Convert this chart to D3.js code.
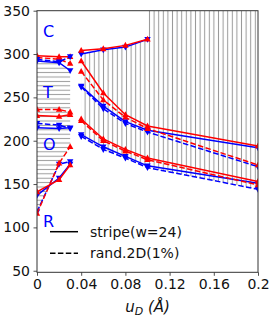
<!DOCTYPE html>
<html>
<head>
<meta charset="utf-8">
<script src="https://cdn.jsdelivr.net/npm/d3@7"></script>
<style>
  body { margin: 0; background: #fff; }
  svg { font-family: "DejaVu Sans", sans-serif; }
</style>
</head>
<body>
<div id="chart"></div>
<script>
// x positions (u_D in Angstrom)
var xLeft = [0, 0.02, 0.03];
var xRight = [0.04, 0.06, 0.08, 0.1, 0.2];
var xTop = [0.04, 0.06, 0.08, 0.1];

// left region, C-T
var ctHeatStripe = [298, 297, 297];
var ctHeatRand = [296, 294, 289];
var ctCoolStripe = [292, 290, 281];
var ctCoolRand = [294, 291, 297];
// left region, T-O
var toHeatStripe = [229, 228, 230];
var toHeatRand = [236, 236, 233];
var toCoolStripe = [215, 214, 215];
var toCoolRand = [220, 218, 214];
// left region, O-R
var orHeatStripe = [141, 155, 172];
var orHeatRand = [116, 174, 193];
var orCoolStripe = [137, 157, 173];
var orCoolRand = [118, 173, 176];

// right region, upper transition
var upHeatStripe = [304, 306, 310, 317];
var upCoolStripe = [300, 305, 308, 317];
// right region, middle transition
var midHeatStripe = [292, 255, 230, 217, 194];
var midHeatRand = [280, 247, 227, 214, 172];
var midCoolStripe = [263, 240, 222, 212, 192];
var midCoolRand = [262, 237, 220, 210, 170];
// right region, lower transition
var lowHeatStripe = [225, 202, 190, 180, 153];
var lowHeatRand = [223, 200, 188, 178, 149];
var lowCoolStripe = [207, 193, 182, 171, 151];
var lowCoolRand = [205, 190, 180, 169, 144];

// hatched areas
var hatchLeftX = [0, 0.02, 0.03];
var hatchLeftTop = [292, 290, 281];
var hatchLeftBottom = [116, 174, 193];
var hatchRightX = [0.04, 0.06, 0.08, 0.1, 0.1, 0.2];
var hatchRightTop = [300, 305, 308, 317, 350, 350];
var hatchRightBottom = [205, 190, 180, 169, 169, 144];

var xTicks = [0, 0.04, 0.08, 0.12, 0.16, 0.2];
var xTickLabels = ["0", "0.04", "0.08", "0.12", "0.16", "0.2"];
var yTicks = [50, 100, 150, 200, 250, 300, 350];
var phaseLabels = ["C", "T", "O", "R"];
var phaseLabelY = [320, 249, 189, 100];
var legendNames = ["stripe(w=24)", "rand.2D(1%)"];

var width = 275, height = 322;
var margin = {left: 37, right: 17, top: 10.7, bottom: 49.7};

var svg = d3.select("#chart").append("svg")
    .attr("width", width)
    .attr("height", height);

var x = d3.scaleLinear().domain([0, 0.2]).range([margin.left, width - margin.right]);
var y = d3.scaleLinear().domain([48.2, 350]).range([height - margin.bottom, margin.top]);

var defs = svg.append("defs");
var ph = defs.append("pattern").attr("id", "hatchH")
    .attr("patternUnits", "userSpaceOnUse").attr("width", 10).attr("height", 4.4);
ph.append("line").attr("x1", 0).attr("x2", 10).attr("y1", 2.2).attr("y2", 2.2)
    .attr("stroke", "#9a9a9a").attr("stroke-width", 1);
var pv = defs.append("pattern").attr("id", "hatchV")
    .attr("patternUnits", "userSpaceOnUse").attr("width", 4.6).attr("height", 10);
pv.append("line").attr("y1", 0).attr("y2", 10).attr("x1", 2.3).attr("x2", 2.3)
    .attr("stroke", "#9a9a9a").attr("stroke-width", 1);

var clip = defs.append("clipPath").attr("id", "plotClip");
clip.append("rect").attr("x", margin.left).attr("y", margin.top)
    .attr("width", width - margin.left - margin.right)
    .attr("height", height - margin.top - margin.bottom);

var plot = svg.append("g").attr("clip-path", "url(#plotClip)");

//hatched regions
var area = d3.area()
    .x(function (d) { return x(d[0]); })
    .y0(function (d) { return y(d[1]); })
    .y1(function (d) { return y(d[2]); });

plot.append("path")
    .attr("d", area(hatchLeftX.map(function (v, i) { return [v, hatchLeftBottom[i], hatchLeftTop[i]]; })))
    .attr("fill", "url(#hatchH)");
plot.append("path")
    .attr("d", area(hatchRightX.map(function (v, i) { return [v, hatchRightBottom[i], hatchRightTop[i]]; })))
    .attr("fill", "url(#hatchV)");

var series = [
    {xs: xLeft, ys: ctHeatStripe, c: "red", heat: true, dash: false},
    {xs: xLeft, ys: ctHeatRand, c: "red", heat: true, dash: true},
    {xs: xLeft, ys: ctCoolStripe, c: "blue", heat: false, dash: false},
    {xs: xLeft, ys: ctCoolRand, c: "blue", heat: false, dash: true},
    {xs: xLeft, ys: toHeatStripe, c: "red", heat: true, dash: false},
    {xs: xLeft, ys: toHeatRand, c: "red", heat: true, dash: true},
    {xs: xLeft, ys: toCoolStripe, c: "blue", heat: false, dash: false},
    {xs: xLeft, ys: toCoolRand, c: "blue", heat: false, dash: true},
    {xs: xLeft, ys: orCoolStripe, c: "blue", heat: false, dash: false},
    {xs: xLeft, ys: orCoolRand, c: "blue", heat: false, dash: true},
    {xs: xLeft, ys: orHeatStripe, c: "red", heat: true, dash: false},
    {xs: xLeft, ys: orHeatRand, c: "red", heat: true, dash: true},
    {xs: xTop, ys: upCoolStripe, c: "blue", heat: false, dash: false},
    {xs: xTop, ys: upHeatStripe, c: "red", heat: true, dash: false},
    {xs: xRight, ys: midCoolRand, c: "blue", heat: false, dash: true},
    {xs: xRight, ys: midCoolStripe, c: "blue", heat: false, dash: false},
    {xs: xRight, ys: midHeatRand, c: "red", heat: true, dash: true},
    {xs: xRight, ys: midHeatStripe, c: "red", heat: true, dash: false},
    {xs: xRight, ys: lowCoolRand, c: "blue", heat: false, dash: true},
    {xs: xRight, ys: lowCoolStripe, c: "blue", heat: false, dash: false},
    {xs: xRight, ys: lowHeatRand, c: "red", heat: true, dash: true},
    {xs: xRight, ys: lowHeatStripe, c: "red", heat: true, dash: false}
];

var line = d3.line()
    .x(function (d) { return x(d[0]); })
    .y(function (d) { return y(d[1]); });

var upTri = "M0,-3.5L3.2,2.3L-3.2,2.3Z";
var downTri = "M0,3.5L3.2,-2.3L-3.2,-2.3Z";

series.forEach(function (s) {
    var pts = s.xs.map(function (v, i) { return [v, s.ys[i]]; });
    plot.append("path")
        .attr("d", line(pts))
        .attr("fill", "none")
        .attr("stroke", s.c)
        .attr("stroke-width", 1.5)
        .attr("stroke-dasharray", s.dash ? "5.5,2.4" : null);
    plot.selectAll(null)
        .data(pts)
        .enter().append("path")
        .attr("d", s.heat ? upTri : downTri)
        .attr("transform", function (d) { return "translate(" + x(d[0]) + "," + y(d[1]) + ")"; })
        .attr("fill", s.c);
});

// phase labels
svg.selectAll(".phase")
    .data(phaseLabels)
    .enter().append("text")
    .attr("class", "phase")
    .attr("x", 43)
    .attr("y", function (d, i) { return y(phaseLabelY[i]); })
    .attr("fill", "blue")
    .style("font-size", "16px")
    .text(function (d) { return d; });

// axes
var xAxis = d3.axisBottom(x).tickValues(xTicks)
    .tickFormat(function (d, i) { return xTickLabels[i]; })
    .tickSize(3.5).tickPadding(3.5);
var yAxis = d3.axisLeft(y).tickValues(yTicks).tickSize(3.5).tickPadding(3.5);

var gx = svg.append("g")
    .attr("transform", "translate(0," + (height - margin.bottom) + ")")
    .call(xAxis);
var gy = svg.append("g")
    .attr("transform", "translate(" + margin.left + ",0)")
    .call(yAxis);
[gx, gy].forEach(function (g) {
    g.select(".domain").remove();
    g.selectAll("line").attr("stroke", "#222").attr("stroke-width", 0.8);
    g.selectAll("text").style("font-size", "14px").attr("fill", "#111")
        .style("font-family", "DejaVu Sans");
});

// frame
svg.append("rect")
    .attr("x", margin.left).attr("y", margin.top)
    .attr("width", width - margin.left - margin.right)
    .attr("height", height - margin.top - margin.bottom)
    .attr("fill", "none").attr("stroke", "#333").attr("stroke-width", 1);

// x label
var xl = svg.append("text")
    .attr("x", (margin.left + width - margin.right) / 2)
    .attr("y", 312)
    .attr("text-anchor", "middle")
    .style("font-size", "15px")
    .style("font-style", "italic")
    .attr("fill", "#111");
xl.append("tspan").text("u");
xl.append("tspan").attr("dy", 3).style("font-size", "11px").text("D");
xl.append("tspan").attr("dy", -3).text(" (Å)");

// legend
var legend = svg.append("g");
legendNames.forEach(function (name, i) {
    var ly = 231.7 + i * 21.6;
    legend.append("line")
        .attr("x1", 50).attr("x2", 78).attr("y1", ly).attr("y2", ly)
        .attr("stroke", "#000").attr("stroke-width", 1.5)
        .attr("stroke-dasharray", i === 1 ? "5.5,2.4" : null);
    legend.append("text")
        .attr("x", 90).attr("y", ly + 5)
        .style("font-size", "14px")
        .attr("fill", "#111")
        .text(name);
});
</script>
</body>
</html>
